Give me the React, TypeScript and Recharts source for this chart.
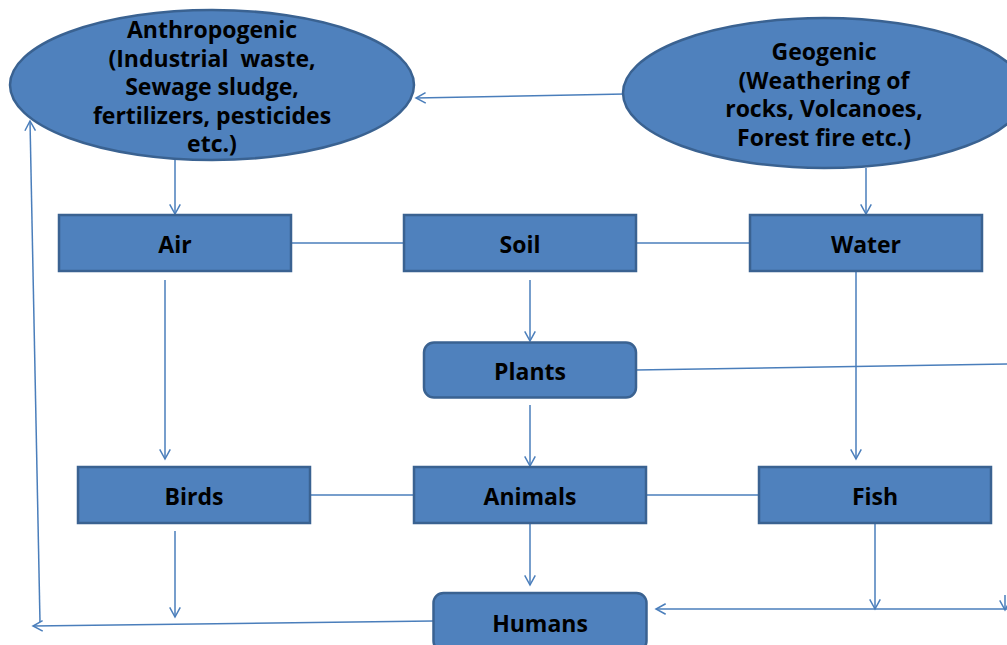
import React from 'react';
import { ScatterChart, Scatter, XAxis, YAxis, ReferenceLine } from 'recharts';

// diagram nodes (centre positions in page pixels)
const nodeIds = ['anthro', 'geo', 'air', 'soil', 'water', 'plants', 'birds', 'animals', 'fish', 'humans'];
const nodeX = [212, 824, 175, 520, 866, 530, 194, 530, 875, 540];
const nodeY = [85, 93, 243, 243, 243, 370, 495, 495, 495, 622];
const nodeLabels = [
  ['Anthropogenic', '(Industrial  waste,', 'Sewage sludge,', 'fertilizers, pesticides', 'etc.)'],
  ['Geogenic', '(Weathering of', 'rocks, Volcanoes,', 'Forest fire etc.)'],
  ['Air'],
  ['Soil'],
  ['Water'],
  ['Plants'],
  ['Birds'],
  ['Animals'],
  ['Fish'],
  ['Humans'],
];

// connectors: x1, y1, x2, y2, arrow at end
const edges: [number, number, number, number, boolean][] = [
  [625, 94, 416, 98, true],
  [175, 160, 175, 214, true],
  [866, 168, 866, 214, true],
  [291, 243, 404, 243, false],
  [636, 243, 750, 243, false],
  [530, 280, 530, 341, true],
  [165, 280, 165, 459, true],
  [856, 271, 856, 459, true],
  [636, 370, 1007, 364, false],
  [530, 405, 530, 466, true],
  [310, 495, 414, 495, false],
  [646, 495, 759, 495, false],
  [175, 531, 175, 617, true],
  [530, 523, 530, 585, true],
  [875, 523, 875, 609, true],
  [1007, 609, 656, 609, true],
  [1005, 595, 1005, 610, true],
  [433, 621, 33, 626, true],
  [40, 622, 30, 121, true],
];

const shapeOf: Record<string, { kind: string; w: number; h: number }> = {
  anthro: { kind: 'ellipse', w: 404, h: 150 },
  geo: { kind: 'ellipse', w: 402, h: 150 },
  air: { kind: 'rect', w: 232, h: 56 },
  soil: { kind: 'rect', w: 232, h: 56 },
  water: { kind: 'rect', w: 232, h: 56 },
  plants: { kind: 'round', w: 212, h: 55 },
  birds: { kind: 'rect', w: 232, h: 56 },
  animals: { kind: 'rect', w: 232, h: 56 },
  fish: { kind: 'rect', w: 232, h: 56 },
  humans: { kind: 'round', w: 213, h: 58 },
};

const data = nodeIds.map((id, i) => ({ id, x: nodeX[i], y: nodeY[i], lines: nodeLabels[i] }));

const FILL = '#4F81BD';
const BORDER = '#3A6291';
const LINE = '#4A7EBB';
const FONT = '"Open Sans", sans-serif';

const NodeShape = (props: any) => {
  const { cx, cy, payload } = props;
  const s = shapeOf[payload.id];
  const lines: string[] = payload.lines;
  const big = s.kind === 'ellipse';
  const lh = 28.5;
  const top = cy - ((lines.length - 1) * lh) / 2;
  return (
    <g>
      {s.kind === 'ellipse' ? (
        <ellipse cx={cx} cy={cy} rx={s.w / 2} ry={s.h / 2} fill={FILL} stroke={BORDER} strokeWidth={2.5} />
      ) : (
        <rect
          x={cx - s.w / 2}
          y={cy - s.h / 2}
          width={s.w}
          height={s.h}
          rx={s.kind === 'round' ? 10 : 0}
          fill={FILL}
          stroke={BORDER}
          strokeWidth={2.5}
        />
      )}
      {lines.map((t, i) => (
        <text
          key={i}
          x={cx}
          y={top + i * lh + 1}
          textAnchor="middle"
          dominantBaseline="central"
          fontFamily={FONT}
          fontWeight="bold"
          fontSize={big ? 23 : 23}
          fill="#000"
          style={{ whiteSpace: 'pre' }}
        >
          {t}
        </text>
      ))}
    </g>
  );
};

const Arrow = (props: any) => {
  const { x1, y1, x2, y2, head } = props;
  const ang = Math.atan2(y2 - y1, x2 - x1);
  const len = 11;
  const spread = 0.5;
  const a1x = x2 - len * Math.cos(ang - spread);
  const a1y = y2 - len * Math.sin(ang - spread);
  const a2x = x2 - len * Math.cos(ang + spread);
  const a2y = y2 - len * Math.sin(ang + spread);
  return (
    <g>
      <line x1={x1} y1={y1} x2={x2} y2={y2} stroke={LINE} strokeWidth={1.5} />
      {head && (
        <polyline
          points={`${a1x},${a1y} ${x2},${y2} ${a2x},${a2y}`}
          fill="none"
          stroke={LINE}
          strokeWidth={1.5}
        />
      )}
    </g>
  );
};

export default function App() {
  return (
    <div style={{ position: 'fixed', left: 0, top: 0, width: 1007, height: 645, background: '#fff', overflow: 'hidden' }}>
      <ScatterChart width={1007} height={645} margin={{ top: 0, right: 0, bottom: 0, left: 0 }}>
        <XAxis type="number" dataKey="x" domain={[0, 1007]} hide allowDataOverflow />
        <YAxis type="number" dataKey="y" domain={[0, 645]} reversed hide allowDataOverflow />
        {edges.map((e, i) => (
          <ReferenceLine
            key={i}
            segment={[
              { x: e[0], y: e[1] },
              { x: e[2], y: e[3] },
            ]}
            ifOverflow="visible"
            shape={(p: any) => <Arrow {...p} head={e[4]} />}
          />
        ))}
        <Scatter data={data} shape={NodeShape} isAnimationActive={false} />
      </ScatterChart>
    </div>
  );
}
